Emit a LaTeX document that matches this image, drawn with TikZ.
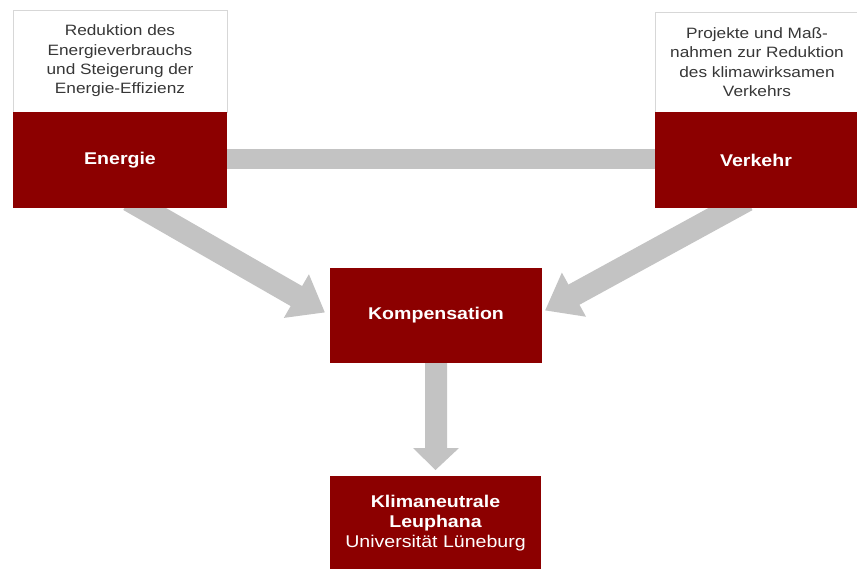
\documentclass[tikz,border=0pt]{standalone}
\usepackage{fontspec}
\setmainfont{Liberation Sans}[FakeStretch=1.15]
\usetikzlibrary{arrows.meta,calc}
\definecolor{lred}{RGB}{140,0,0}
\definecolor{lgray}{RGB}{195,195,195}
\definecolor{ltext}{RGB}{55,55,55}
\definecolor{lborder}{RGB}{215,215,215}
\pgfdeclarelayer{bg}
\pgfdeclarelayer{paper}
\pgfsetlayers{paper,bg,main}
\begin{document}
\begin{tikzpicture}[x=1pt,y=-1pt,
  redbox/.style={fill=lred, draw=none, text=white, inner sep=0pt, outer sep=0pt,
    align=center, font=\fontsize{17}{20}\selectfont\bfseries},
  whitebox/.style={fill=white, draw=lborder, line width=0.8pt, text=ltext, inner sep=0pt, outer sep=0pt,
    align=center, font=\fontsize{15}{19.3}\selectfont},
  graybar/.style={draw=lgray, line width=20pt},
  grayarrow/.style={draw=lgray, line width=23pt, -{Triangle[length=33pt,width=48pt]}},
  grayfill/.style={fill=lgray, draw=none}
]
\begin{pgfonlayer}{paper}
\fill[white] (0,0) rectangle (857,569);
\end{pgfonlayer}
\useasboundingbox (0,0) rectangle (857,569);

\node[whitebox, minimum width=214pt, minimum height=102pt, anchor=north west] (ltop) at (13,10)
  {Reduktion des\\Energieverbrauchs\\und Steigerung der\\Energie-Effizienz};
\node[whitebox, minimum width=204pt, minimum height=100pt, anchor=north west] (rtop) at (655,12)
  {Projekte und Maß-\\nahmen zur Reduktion\\des klimawirksamen\\Verkehrs};

\node[redbox, minimum width=214pt, minimum height=96pt, anchor=north west] (energie) at (13,112) {Energie};
\node[redbox, minimum width=202pt, minimum height=96pt, anchor=north west] (verkehr) at (655,112) {Verkehr};
\node[redbox, minimum width=212pt, minimum height=95pt, anchor=north west] (komp) at (330,268) {Kompensation};
\node[redbox, minimum width=211pt, minimum height=94pt, anchor=north west] (klima) at (330,476)
  {Klimaneutrale\\Leuphana\\{\mdseries Universität Lüneburg}};

\coordinate (ls) at (129,200);
\coordinate (rs) at (747,200);

\begin{pgfonlayer}{bg}
\draw[graybar] ([yshift=1pt]energie.east) -- ([yshift=1pt]verkehr.west);
\draw[grayarrow] (ls) -- ($(komp.west)+(-5,-3)$);
\draw[grayarrow] (rs) -- ($(komp.east)+(3,-5)$);
\fill[grayfill] ($(komp.south)+(-11,-2)$) -- ($(komp.south)+(11,-2)$) -- ($(komp.south)+(11,85)$)
  -- ($(komp.south)+(23,85)$) -- ($(klima.north)+(0,-6)$) -- ($(komp.south)+(-23,85)$)
  -- ($(komp.south)+(-11,85)$) -- cycle;
\end{pgfonlayer}
\end{tikzpicture}
\end{document}
